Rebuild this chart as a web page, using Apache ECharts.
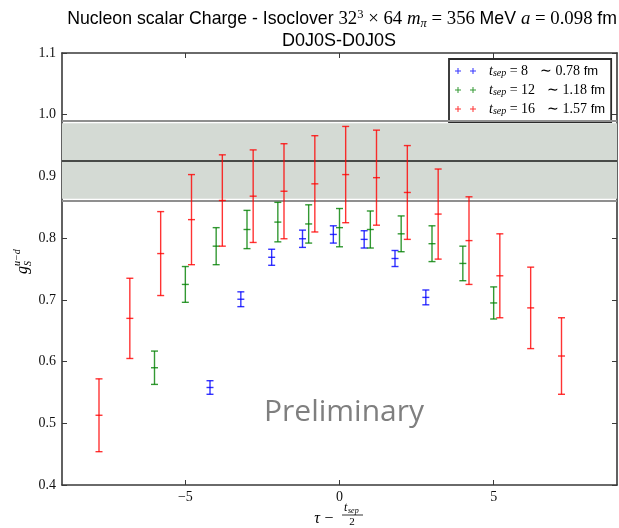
<!DOCTYPE html>
<html>
<head>
<meta charset="utf-8">
<script src="https://cdn.jsdelivr.net/npm/echarts@6/dist/echarts.min.js"></script>
<style>
  html, body { margin: 0; padding: 0; background: #fff; }
  #chart { width: 619px; height: 528px; }
</style>
</head>
<body>
<div id="chart"></div>
<script>
// Nucleon scalar charge ratio vs. operator insertion time, three source-sink separations.
// Each series: x = tau - t_sep/2 (small horizontal offsets keep bars apart), value, error.
const xSep8  = [-4.2, -3.2, -2.2, -1.2, -0.2, 0.8, 1.8, 2.8];
const ySep8  = [0.558, 0.701, 0.769, 0.799, 0.806, 0.798, 0.767, 0.704];
const eSep8  = [0.011, 0.012, 0.013, 0.014, 0.014, 0.014, 0.013, 0.012];

const xSep12 = [-6, -5, -4, -3, -2, -1, 0, 1, 2, 3, 4, 5];
const ySep12 = [0.590, 0.725, 0.787, 0.814, 0.826, 0.823, 0.817, 0.814, 0.807, 0.791, 0.759, 0.695];
const eSep12 = [0.027, 0.029, 0.030, 0.031, 0.032, 0.031, 0.031, 0.030, 0.029, 0.029, 0.028, 0.026];

const xSep16 = [-7.8, -6.8, -5.8, -4.8, -3.8, -2.8, -1.8, -0.8, 0.2, 1.2, 2.2, 3.2, 4.2, 5.2, 6.2, 7.2];
const ySep16 = [0.513, 0.670, 0.775, 0.830, 0.861, 0.868, 0.876, 0.888, 0.903, 0.898, 0.874, 0.839, 0.796, 0.739, 0.687, 0.609];
const eSep16 = [0.059, 0.065, 0.068, 0.073, 0.074, 0.075, 0.077, 0.078, 0.078, 0.077, 0.076, 0.073, 0.071, 0.068, 0.066, 0.062];

// Fitted value and its uncertainty band
const fitValue = 0.925;
const fitError = 0.061;

// Legend entries: separation and physical distance
const sepLabels  = ['8', '12', '16'];
const distLabels = ['0.78', '1.18', '1.57'];
const seriesNames = ['tsep8', 'tsep12', 'tsep16'];

const xTicks = [-5, 0, 5];

const colors = ['rgba(0,0,255,0.8)', 'rgba(0,128,0,0.8)', 'rgba(255,0,0,0.8)'];

const SERIF = 'Liberation Serif';
const SANS = 'Liberation Sans';

function errorBars(name, xs, ys, es, color) {
  return {
    name: name,
    type: 'custom',
    z: 5,
    itemStyle: { color: color },
    encode: { x: 0, y: 1 },
    data: xs.map((x, i) => [x, ys[i], es[i]]),
    renderItem: function (params, api) {
      const x = api.value(0), y = api.value(1), e = api.value(2);
      const top = api.coord([x, y + e]);
      const bot = api.coord([x, y - e]);
      const mid = api.coord([x, y]);
      const w = 3.5;
      const st = { stroke: color, lineWidth: 1.4, fill: null };
      return {
        type: 'group',
        children: [
          { type: 'line', shape: { x1: top[0], y1: top[1], x2: bot[0], y2: bot[1] }, style: st },
          { type: 'line', shape: { x1: top[0] - w, y1: top[1], x2: top[0] + w, y2: top[1] }, style: st },
          { type: 'line', shape: { x1: bot[0] - w, y1: bot[1], x2: bot[0] + w, y2: bot[1] }, style: st },
          { type: 'line', shape: { x1: mid[0] - w, y1: mid[1], x2: mid[0] + w, y2: mid[1] }, style: st }
        ]
      };
    }
  };
}

// Two small plus signs as a filled legend glyph
const plusPair = 'path://M0,2.5h6v1h-6z M2.5,0h1v6h-1z M15,2.5h6v1h-6z M17.5,0h1v6h-1z';

const chart = echarts.init(document.getElementById('chart'), null, { renderer: 'canvas' });

const axisLineStyle = { color: '#3a3a3a', width: 1.6 };

const titleRich = {
  s: { fontFamily: SANS, fontSize: 17.7, fontWeight: 'normal', color: '#000', lineHeight: 22 },
  m: { fontFamily: SERIF, fontSize: 18.8, fontWeight: 'normal', color: '#000', lineHeight: 22 },
  mi: { fontFamily: SERIF, fontStyle: 'italic', fontSize: 18.8, fontWeight: 'normal', color: '#000', lineHeight: 22 },
  sup: { fontFamily: SERIF, fontSize: 12.5, fontWeight: 'normal', color: '#000', lineHeight: 12, verticalAlign: 'top' },
  sub: { fontFamily: SERIF, fontStyle: 'italic', fontSize: 12.5, fontWeight: 'normal', color: '#000', lineHeight: 12, verticalAlign: 'bottom' }
};

const option = {
  animation: false,
  backgroundColor: '#fff',
  title: [
    {
      left: 342, top: 8, textAlign: 'center', padding: 0,
      text: '{s|Nucleon scalar Charge - Isoclover }{m|32}{sup|3}{m| × 64 }{mi|m}{sub|π}{m| = 356 }{s|MeV }{mi|a}{m| = 0.098 }{s|fm}',
      textStyle: { fontWeight: 'normal', rich: titleRich }
    },
    {
      left: 339, top: 32, textAlign: 'center', padding: 0,
      text: 'D0J0S-D0J0S',
      textStyle: { fontFamily: SANS, fontSize: 18, fontWeight: 'normal', color: '#000' }
    }
  ],
  grid: { left: 62, right: 2, top: 53, bottom: 43, containLabel: false },
  xAxis: [
    {
      type: 'value', min: -9, max: 9, position: 'bottom',
      axisLine: { show: true, onZero: false, lineStyle: axisLineStyle },
      axisTick: { show: true, inside: true, length: 5, customValues: xTicks, lineStyle: { color: '#3a3a3a', width: 1 } },
      axisLabel: {
        show: true, customValues: xTicks, margin: 5,
        fontFamily: SERIF, fontSize: 14, color: '#111',
        formatter: v => String(v).replace('-', '\u2212')
      },
      splitLine: { show: false }
    },
    {
      type: 'value', min: -9, max: 9, position: 'top',
      axisLine: { show: true, onZero: false, lineStyle: axisLineStyle },
      axisTick: { show: true, inside: true, length: 5, customValues: xTicks, lineStyle: { color: '#3a3a3a', width: 1 } },
      axisLabel: { show: false },
      splitLine: { show: false }
    }
  ],
  yAxis: [
    {
      type: 'value', min: 0.4, max: 1.1, interval: 0.1, position: 'left',
      axisLine: { show: true, onZero: false, lineStyle: axisLineStyle },
      axisTick: { show: true, inside: true, length: 5, lineStyle: { color: '#3a3a3a', width: 1 } },
      axisLabel: {
        show: true, margin: 6, fontFamily: SERIF, fontSize: 14, color: '#111',
        formatter: v => v.toFixed(1)
      },
      splitLine: { show: false }
    },
    {
      type: 'value', min: 0.4, max: 1.1, interval: 0.1, position: 'right',
      axisLine: { show: true, onZero: false, lineStyle: axisLineStyle },
      axisTick: { show: true, inside: true, length: 5, lineStyle: { color: '#3a3a3a', width: 1 } },
      axisLabel: { show: false },
      splitLine: { show: false }
    }
  ],
  legend: {
    orient: 'vertical',
    left: 449, top: 59,
    padding: [5, 6, 6, 6],
    itemGap: 5,
    itemWidth: 21, itemHeight: 6,
    borderColor: '#2a2a2a', borderWidth: 1.8, borderRadius: 0,
    backgroundColor: '#fff',
    selectedMode: false,
    data: seriesNames.map((n, i) => ({ name: n, icon: plusPair, itemStyle: { color: colors[i] } })),
    formatter: function (name) {
      const i = seriesNames.indexOf(name);
      return '{t|t}{s|sep}{e| = ' + sepLabels[i] + '}{g|∼ ' + distLabels[i] + '}{f| fm}';
    },
    textStyle: {
      rich: {
        t: { fontFamily: SERIF, fontStyle: 'italic', fontSize: 14, color: '#000', lineHeight: 14, padding: [0, 0, 0, 8] },
        s: { fontFamily: SERIF, fontStyle: 'italic', fontSize: 10, color: '#000', lineHeight: 10, verticalAlign: 'bottom' },
        e: { fontFamily: SERIF, fontSize: 14, color: '#000', lineHeight: 14 },
        g: { fontFamily: SERIF, fontSize: 14, color: '#000', lineHeight: 14, padding: [0, 0, 0, 12] },
        f: { fontFamily: SANS, fontSize: 13, color: '#000', lineHeight: 14 }
      }
    }
  },
  graphic: [
    {
      type: 'text', x: 344, y: 412, z: 10,
      style: { text: 'Preliminary', fontFamily: 'Open Sans', fontSize: 30, fill: '#7f7f7f', align: 'center', verticalAlign: 'middle' }
    },
    // y-axis title: g_S^{u-d}, read bottom to top
    {
      type: 'group', x: 23, y: 262, rotation: Math.PI / 2,
      children: [
        { type: 'text', x: -12, y: 0, style: { text: 'g', fontFamily: SERIF, fontStyle: 'italic', fontSize: 16, fill: '#000', verticalAlign: 'middle' } },
        { type: 'text', x: -4, y: 5, style: { text: 'S', fontFamily: SERIF, fontStyle: 'italic', fontSize: 10, fill: '#000', verticalAlign: 'middle' } },
        { type: 'text', x: -4, y: -6, style: { text: 'u\u2212d', fontFamily: SERIF, fontStyle: 'italic', fontSize: 10, fill: '#000', verticalAlign: 'middle' } }
      ]
    },
    // x-axis title: tau - t_sep/2
    { type: 'text', x: 317, y: 519, style: { text: 'τ', fontFamily: SERIF, fontStyle: 'italic', fontSize: 16, fill: '#000', align: 'center', verticalAlign: 'middle' } },
    { type: 'text', x: 329, y: 519, style: { text: '\u2212', fontFamily: SERIF, fontSize: 16, fill: '#000', align: 'center', verticalAlign: 'middle' } },
    { type: 'text', x: 344, y: 508, style: { text: 't', fontFamily: SERIF, fontStyle: 'italic', fontSize: 12, fill: '#000', verticalAlign: 'middle' } },
    { type: 'text', x: 348, y: 511, style: { text: 'sep', fontFamily: SERIF, fontStyle: 'italic', fontSize: 8, fill: '#000', verticalAlign: 'middle' } },
    { type: 'line', shape: { x1: 342, y1: 515, x2: 363, y2: 515 }, style: { stroke: '#000', lineWidth: 0.8 } },
    { type: 'text', x: 352, y: 522, style: { text: '2', fontFamily: SERIF, fontSize: 11, fill: '#000', align: 'center', verticalAlign: 'middle' } }
  ],
  series: [
    {
      name: 'fit',
      type: 'line',
      z: 2,
      symbol: 'none',
      silent: true,
      data: [[-9, fitValue], [9, fitValue]],
      lineStyle: { color: '#1a1a1a', width: 1.6 },
      markArea: {
        silent: true,
        itemStyle: { color: '#d4dad4' },
        data: [[{ yAxis: fitValue - fitError }, { yAxis: fitValue + fitError }]]
      },
      markLine: {
        silent: true,
        symbol: 'none',
        label: { show: false },
        lineStyle: { color: '#8f8f8f', width: 1.8, type: 'solid' },
        data: [{ yAxis: fitValue - fitError }, { yAxis: fitValue + fitError }]
      }
    },
    errorBars(seriesNames[0], xSep8, ySep8, eSep8, colors[0]),
    errorBars(seriesNames[1], xSep12, ySep12, eSep12, colors[1]),
    errorBars(seriesNames[2], xSep16, ySep16, eSep16, colors[2])
  ]
};

chart.setOption(option);
</script>
</body>
</html>
